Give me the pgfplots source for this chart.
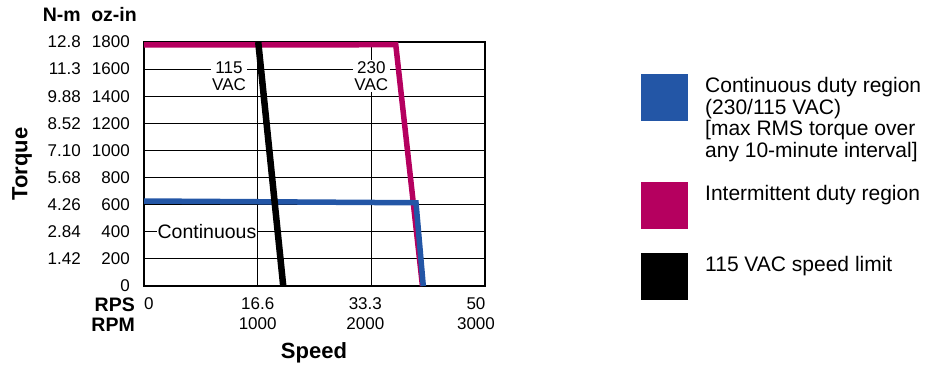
\documentclass[border=0pt]{standalone}
\usepackage{pgfplots}
\pgfplotsset{compat=1.18}
\usepackage{fontspec}
\setmainfont{Liberation Sans}
\definecolor{blueC}{RGB}{35,86,166}
\definecolor{magC}{RGB}{181,0,95}
\newcommand{\yl}[2]{\makebox[38pt][r]{#1}\makebox[49pt][r]{#2}}
\begin{document}
\begin{tikzpicture}[x=1pt,y=1pt]
\useasboundingbox (0,0) rectangle (937,367);
\begin{axis}[
  at={(144pt,81pt)}, anchor=south west,
  scale only axis, width=341pt, height=244pt,
  xmin=0, xmax=3000, ymin=0, ymax=1800,
  axis line style={line width=1.4pt},
  grid=major, major grid style={black, line width=1.2pt},
  major tick length=0pt,
  xtick={0,1000,2000,3000},
  xticklabels={{\makebox[0pt][l]{0}},{16.6\\1000},{\hspace*{-12pt}33.3\\\hspace*{-12pt}2000},{\hspace*{-18pt}50\\\hspace*{-18pt}3000}},
  xticklabel style={anchor=north, inner sep=0pt, yshift=-11pt, align=center, font=\fontsize{17}{20}\selectfont},
  ytick={0,200,400,600,800,1000,1200,1400,1600,1800},
  yticklabels={\yl{}{0},\yl{1.42}{200},\yl{2.84}{400},\yl{4.26}{600},\yl{5.68}{800},\yl{7.10}{1000},\yl{8.52}{1200},\yl{9.88}{1400},\yl{11.3}{1600},\yl{12.8}{1800}},
  yticklabel style={anchor=east, inner sep=0pt, xshift=-14pt, font=\fontsize{17}{20}\selectfont},
]
\addplot[magC, line width=5.5pt, line join=miter] coordinates {(0,1778) (2215,1780) (2450,0)};
\addplot[blueC, line width=5.5pt, line join=miter] coordinates {(0,627) (2393,614) (2457,0)};
\addplot[black, line width=6.5pt] coordinates {(1005,1800) (1225,0)};
\node[fill=white, inner sep=1.5pt, align=center, font=\fontsize{17}{17}\selectfont] at (axis cs:748,1549) {115\\VAC};
\node[fill=white, inner sep=1.5pt, align=center, font=\fontsize{17}{17}\selectfont] at (axis cs:2000,1549) {230\\VAC};
\node[fill=white, inner sep=1pt, font=\fontsize{19.5}{20}\selectfont] at (axis cs:554,400) {Continuous};
\end{axis}
% axis titles
\node[font=\bfseries\fontsize{22}{24}\selectfont] at (314,14) {Speed};
\node[font=\bfseries\fontsize{22}{24}\selectfont, rotate=90] at (22,203) {Torque};
\node[font=\bfseries\fontsize{19.5}{22}\selectfont, anchor=east, inner sep=0pt] at (135,62) {RPS};
\node[font=\bfseries\fontsize{19.5}{22}\selectfont, anchor=east, inner sep=0pt] at (135,42) {RPM};
\node[font=\bfseries\fontsize{19.5}{22}\selectfont, anchor=east, inner sep=0pt] at (81,352) {N-m};
\node[font=\bfseries\fontsize{19.5}{22}\selectfont, anchor=east, inner sep=0pt] at (137,352) {oz-in};
% legend
\fill[blueC] (641,293) rectangle (688,246);
\fill[magC] (641,185) rectangle (688,138);
\fill[black] (641,114) rectangle (688,67);
\node[anchor=north west, inner sep=0pt, align=left, font=\fontsize{21}{21.7}\selectfont] at (705,290) {Continuous duty region\\(230/115 VAC)\\{[}max RMS torque over\\any 10-minute interval{]}};
\node[anchor=north west, inner sep=0pt, align=left, font=\fontsize{21}{21.7}\selectfont] at (705,182) {Intermittent duty region};
\node[anchor=north west, inner sep=0pt, align=left, font=\fontsize{21}{21.7}\selectfont] at (705,111) {115 VAC speed limit};
\end{tikzpicture}
\end{document}
